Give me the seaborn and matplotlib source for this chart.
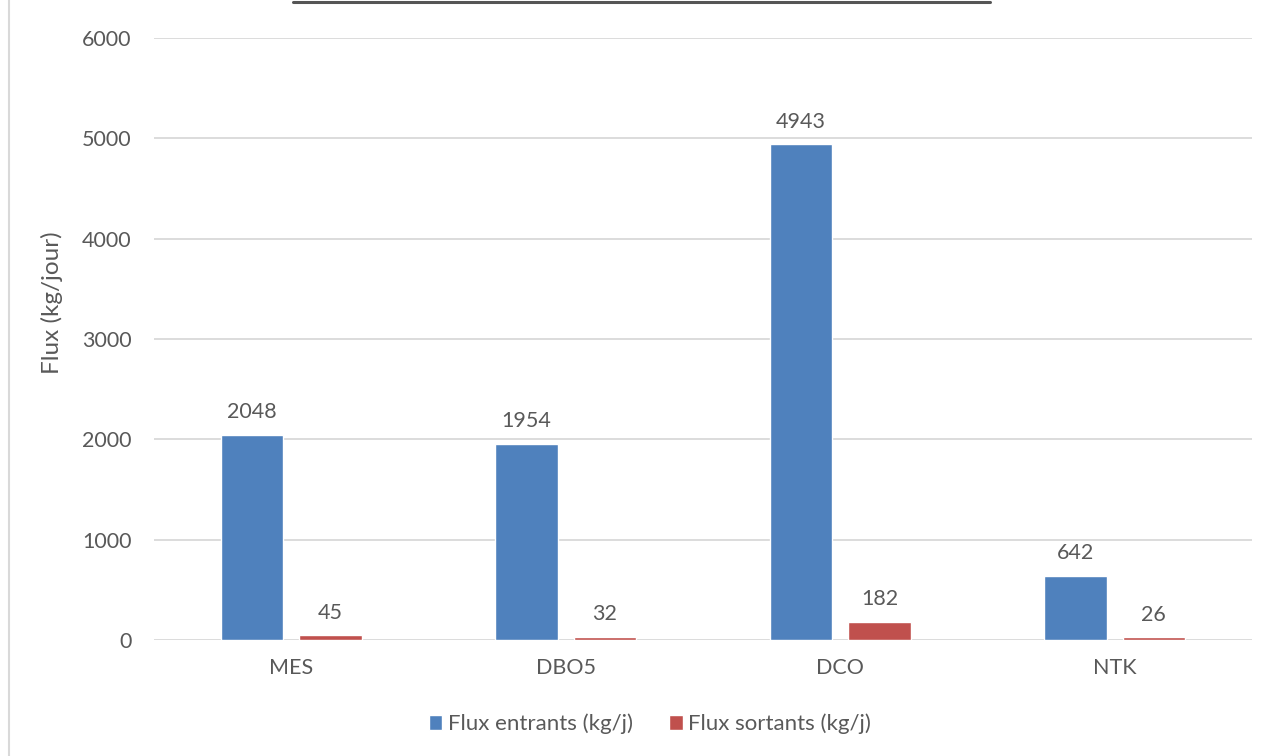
import pandas as pd
import seaborn as sns
import matplotlib.pyplot as plt
from matplotlib.lines import Line2D

# Data
categories = ["MES", "DBO5", "DCO", "NTK"]
flux_entrants = [2048, 1954, 4943, 642]
flux_sortants = [45, 32, 182, 26]
series_names = ["Flux entrants (kg/j)", "Flux sortants (kg/j)"]
yticks = [0, 1000, 2000, 3000, 4000, 5000, 6000]

df = pd.DataFrame({
    "Paramètre": categories * 2,
    "Flux": flux_entrants + flux_sortants,
    "Série": [series_names[0]] * 4 + [series_names[1]] * 4,
})

sns.set_style("white")
plt.rcParams["font.family"] = ["Lato", "DejaVu Sans"]
text_col = "#595959"
fs = 15.5

fig = plt.figure(figsize=(12.67, 7.56), dpi=100)
# plot area in pixels: x 154..1252, y 38..640
ax = fig.add_axes([154 / 1267, 1 - 640 / 756, 1098 / 1267, 602 / 756])

sns.barplot(data=df, x="Paramètre", y="Flux", hue="Série",
            palette=["#4F81BD", "#C0504D"], width=0.57, gap=0.2,
            saturation=1, ax=ax, legend=True)

for cont in ax.containers:
    ax.bar_label(cont, fmt="%d", padding=9, fontsize=fs, color=text_col)

ax.set_xlim(-0.5, 3.5)
ax.set_ylim(0, 6000)
ax.set_yticks(yticks)
ax.yaxis.grid(True, color="#D9D9D9", linewidth=1.3)
ax.set_axisbelow(True)
for s in ax.spines.values():
    s.set_visible(False)
ax.tick_params(axis="both", length=0, labelsize=fs, labelcolor=text_col)
ax.tick_params(axis="x", pad=13)
ax.tick_params(axis="y", pad=16)
ax.set_xlabel("")
ax.set_ylabel("")
fig.text(52 / 1267, 1 - 303 / 756, "Flux (kg/jour)", rotation=90,
         ha="center", va="center", fontsize=17.5, color=text_col)

ax.legend(loc="center", bbox_to_anchor=(650 / 1267, 1 - 724 / 756),
          bbox_transform=fig.transFigure, ncol=2,
          frameon=False, fontsize=16, labelcolor=text_col,
          handlelength=0.6, handleheight=0.6, handletextpad=0.25,
          columnspacing=1.65)

# leftovers of the original frame: cut-off title box and chart border
fig.add_artist(Line2D([293 / 1267, 990 / 1267], [1 - 1.5 / 756] * 2,
                      color="#555555", linewidth=2.2, transform=fig.transFigure))
fig.add_artist(Line2D([9 / 1267] * 2, [0, 1],
                      color="#D9D9D9", linewidth=1.5, transform=fig.transFigure))

fig.savefig("out.png", dpi=100)
